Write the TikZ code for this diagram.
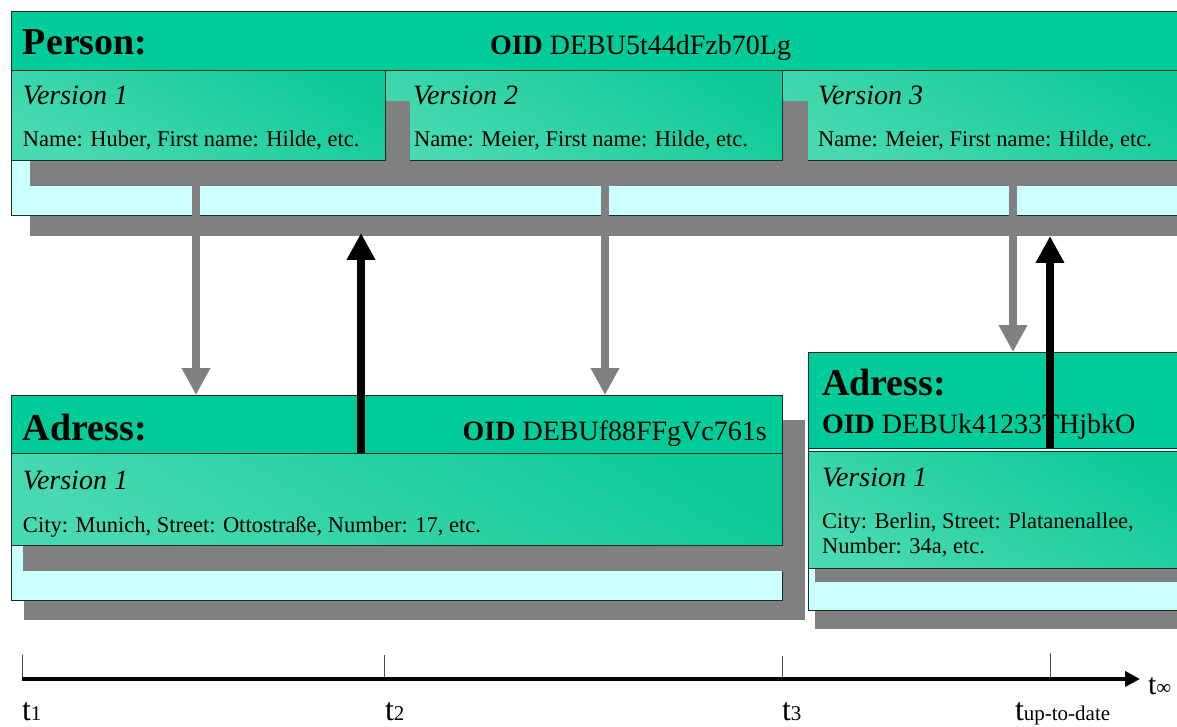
\documentclass[tikz,border=0pt]{standalone}
\usepackage{fontspec}
\setmainfont{Liberation Serif}
\usetikzlibrary{arrows.meta}
\definecolor{hdr}{RGB}{0,204,153}
\definecolor{cy}{RGB}{204,255,255}
\definecolor{shd}{RGB}{128,128,128}
\definecolor{glight}{RGB}{72,217,176}
\definecolor{gdark}{RGB}{14,202,152}
\definecolor{edge}{RGB}{25,45,40}
\newcommand\tkTitle{\fontsize{38}{40}\selectfont\bfseries}
\newcommand\tkOid{\fontsize{28}{30}\selectfont}
\newcommand\tkVer{\fontsize{28}{30}\selectfont\itshape}
\newcommand\tkBody{\fontsize{22.5}{25}\selectfont}
\newcommand\tkT{\fontsize{32}{32}\selectfont}
\newcommand\tkSub{\fontsize{21}{21}\selectfont}
\begin{document}
\begin{tikzpicture}[x=1pt,y=-1pt,
  shadowbox/.style={fill=shd},
  cyanbox/.style={fill=cy,draw=edge,line width=0.8pt},
  hdrbox/.style={fill=hdr,draw=edge,line width=0.8pt},
  verbox/.style={top color=gdark,bottom color=glight,shading angle=-30,draw=edge,line width=0.8pt},
  txt/.style={anchor=base west,inner sep=0pt,outer sep=0pt},
  grayarr/.style={draw=shd,line width=8pt,-{Triangle[width=27pt,length=27pt]}},
  blackarr/.style={draw=black,line width=8pt,-{Triangle[width=27pt,length=27pt]}},
  axisline/.style={draw=black,line width=4pt,-{Triangle[width=15pt,length=15pt]}},
  tickline/.style={draw=black!70,line width=0.9pt}
]
\useasboundingbox (0,0) rectangle (1177,727);
\clip (0,0) rectangle (1177,727);

% ---------- Person ----------
\path[shadowbox] (30,30) rectangle (1190,236);
\path[cyanbox] (11,11) rectangle (1190,215);
\path[shadowbox] (808,101) rectangle (1190,186);
\path[verbox] (782,70) rectangle (1190,160);
\path[shadowbox] (410,101) rectangle (808,186);
\path[verbox] (385,70) rectangle (782,160);
\path[shadowbox] (30,101) rectangle (410,186);
\path[verbox] (11,70) rectangle (385,160);
\path[hdrbox] (11,11) rectangle (1190,70);

% ---------- Address 1 ----------
\path[shadowbox] (24,420) rectangle (805,620);
\path[cyanbox] (11,395) rectangle (782,600);
\path[shadowbox] (23,470) rectangle (805,571);
\path[verbox] (11,453) rectangle (782,545);
\path[hdrbox] (11,395) rectangle (782,453);

% ---------- Address 2 ----------
\path[shadowbox] (815,372) rectangle (1190,629);
\path[cyanbox] (808,352) rectangle (1190,610);
\path[shadowbox] (815,470) rectangle (1190,582);
\path[verbox] (808,451) rectangle (1190,568);
\path[hdrbox] (808,352) rectangle (1190,448);

% ---------- texts ----------
\node[txt,font=\tkTitle] (person) at (23,55) {Person:};
\node[txt,font=\tkOid] (poid) at (490,55) {\textbf{OID} DEBU5t44dFzb70Lg};
\node[txt,font=\tkVer] (pv1) at (23,105) {Version 1};
\node[txt,font=\tkBody] (pv1t) at (23,147) {Name: Huber, First name: Hilde, etc.};
\node[txt,font=\tkVer] (pv2) at (413,105) {Version 2};
\node[txt,font=\tkBody] (pv2t) at (414,147) {Name: Meier, First name: Hilde, etc.};
\node[txt,font=\tkVer] (pv3) at (818,105) {Version 3};
\node[txt,font=\tkBody] (pv3t) at (818,147) {Name: Meier, First name: Hilde, etc.};

\node[txt,font=\tkTitle] (adr1) at (23,440) {Adress:};
\node[anchor=base east,inner sep=0pt,font=\tkOid] (a1oid) at (767,440) {\textbf{OID} DEBUf88FFgVc761s};
\node[txt,font=\tkVer] (a1v1) at (23,489) {Version 1};
\node[txt,font=\tkBody] (a1v1t) at (23,532) {City: Munich, Street: Ottostraße, Number: 17, etc.};

\node[txt,font=\tkTitle] (adr2) at (822,395) {Adress:};
\node[txt,font=\tkOid] (a2oid) at (822,433) {\textbf{OID} DEBUk41233THjbkO};
\node[txt,font=\tkVer] (a2v1) at (822,486) {Version 1};
\node[txt,font=\tkBody] (a2v1t) at (822,528) {City: Berlin, Street: Platanenallee,};
\node[txt,font=\tkBody] (a2v1u) at (822,553) {Number: 34a, etc.};

% ---------- connectors ----------
\coordinate (g1s) at (196,186);
\coordinate (g1e) at (196,395);
\coordinate (g2s) at (605,186);
\coordinate (g2e) at (605,395);
\coordinate (g3s) at (1013,186);
\coordinate (g3e) at (1013,352);
\coordinate (b1s) at (361,453);
\coordinate (b1e) at (361,233);
\coordinate (b2s) at (1050,448);
\coordinate (b2e) at (1050,236);
\draw[grayarr] (g1s) -- (g1e);
\draw[grayarr] (g2s) -- (g2e);
\draw[grayarr] (g3s) -- (g3e);
\draw[blackarr] (b1s) -- (b1e);
\draw[blackarr] (b2s) -- (b2e);

% ---------- time axis ----------
\coordinate (ax0) at (22,679);
\coordinate (ax1) at (1140,679);
\coordinate (k1a) at (22,655);  \coordinate (k1b) at (22,679);
\coordinate (k2a) at (384,655); \coordinate (k2b) at (384,679);
\coordinate (k3a) at (782,656); \coordinate (k3b) at (782,679);
\coordinate (k4a) at (1050,653);\coordinate (k4b) at (1050,679);
\draw[tickline] (k1a) -- (k1b);
\draw[tickline] (k2a) -- (k2b);
\draw[tickline] (k3a) -- (k3b);
\draw[tickline] (k4a) -- (k4b);
\draw[axisline] (ax0) -- (ax1);

\node[txt] (t1) at (22,720) {\tkT t\tkSub 1};
\node[txt] (t2) at (385,720) {\tkT t\tkSub 2};
\node[txt] (t3) at (782,720) {\tkT t\tkSub 3};
\node[txt] (tup) at (1015,720) {\tkT t\tkSub up-to-date};
\node[txt] (tinf) at (1148,694) {\fontsize{30}{30}\selectfont t\fontsize{21}{21}\selectfont ∞};
\end{tikzpicture}
\end{document}
